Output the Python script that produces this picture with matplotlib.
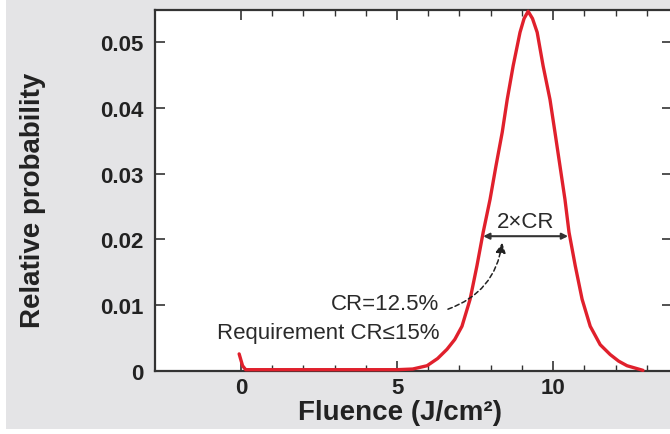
import matplotlib.pyplot as plt
from matplotlib.patches import Rectangle

# curve
fluence = [-0.06, 0.05, 0.15, 1.0, 2.0, 3.0, 4.0, 5.0, 5.5, 5.96, 6.3, 6.6, 6.85, 7.08,
           7.34, 7.56, 7.76, 7.98, 8.17, 8.37, 8.53, 8.72, 8.94, 9.07, 9.2,
           9.34, 9.49, 9.68, 9.9, 10.06, 10.22, 10.38, 10.51, 10.71, 10.93, 11.19,
           11.51, 11.83, 12.1, 12.37, 12.88]
prob = [0.0026, 0.0008, 0.0002, 0.0002, 0.0002, 0.0002, 0.0002, 0.0002, 0.0003, 0.0008, 0.0019, 0.0033, 0.0048, 0.0068,
        0.0109, 0.016, 0.0211, 0.0261, 0.0312, 0.0363, 0.0413, 0.0464, 0.0515, 0.0536, 0.0547,
        0.0536, 0.0515, 0.0464, 0.0413, 0.0363, 0.0312, 0.0261, 0.0211, 0.016, 0.0109, 0.0068,
        0.004, 0.0025, 0.0015, 0.0008, 0.0001]

cr_left, cr_right, cr_y = 7.76, 10.48, 0.0205

plt.rcParams['font.family'] = ['Liberation Sans', 'DejaVu Sans']

fig = plt.figure(figsize=(6.7, 4.35), dpi=100, facecolor='white')
fig.patches.append(Rectangle((6/670, 5/435), 1, 1, transform=fig.transFigure,
                             facecolor='#e4e4e6', edgecolor='none', zorder=-10))

ax = fig.add_axes([155/670, 1 - 372/435, (672-155)/670, (372-11)/435])
ax.set_facecolor('white')

ax.plot(fluence, prob, color='#e0202c', lw=2.4, solid_capstyle='round',
        solid_joinstyle='round', clip_on=False, zorder=3)

ax.set_xlim(-2.756, 13.81)
ax.set_ylim(0, 0.0549)
ax.set_xticks([0, 5, 10])
ax.set_xticks(range(1, 14), minor=True)
ax.set_yticks([0, 0.01, 0.02, 0.03, 0.04, 0.05])
ax.set_yticklabels(['0', '0.01', '0.02', '0.03', '0.04', '0.05'])
ax.tick_params(which='both', direction='in', top=True, right=True, color='#333333',
               labelsize=16, labelcolor='#222222')
ax.tick_params(which='major', length=7, width=1.2)
ax.tick_params(which='minor', length=4, width=1.0)
ax.tick_params(axis='y', pad=8)
ax.tick_params(axis='x', pad=4)
for lab in ax.get_xticklabels() + ax.get_yticklabels():
    lab.set_fontweight('bold')
for side in ['left', 'bottom', 'top']:
    ax.spines[side].set_color('#333333')
    ax.spines[side].set_linewidth(1.6)
ax.spines['right'].set_visible(False)

# 2xCR double arrow
ax.annotate('', xy=(cr_left, cr_y), xytext=(cr_right, cr_y),
            arrowprops=dict(arrowstyle='<|-|>', color='#333333', lw=1.5,
                            mutation_scale=9, shrinkA=0, shrinkB=0))
ax.text((cr_left + cr_right) / 2, 0.0228, '2×CR', ha='center', va='center',
        fontsize=16, color='#2a2a2a')

# dashed curved pointer
ax.annotate('', xy=(8.37, 0.0195), xytext=(6.63, 0.0094),
            arrowprops=dict(arrowstyle='-|>', color='#222222', lw=1.1, ls=(0, (3, 2)),
                            connectionstyle='arc3,rad=0.3', mutation_scale=15,
                            shrinkA=0, shrinkB=0))
ax.text(6.35, 0.0102, 'CR=12.5%', ha='right', va='center', fontsize=16, color='#2a2a2a')
ax.text(6.35, 0.0059, 'Requirement CR≤15%', ha='right', va='center', fontsize=16, color='#2a2a2a')

fig.text(400/670, 1 - 420/435, 'Fluence (J/cm²)', ha='center', va='baseline',
         fontsize=20, fontweight='bold', color='#222222')
fig.text(33/670, 1 - 200/435, 'Relative probability', ha='center', va='center',
         rotation=90, fontsize=20, fontweight='bold', color='#222222')

fig.savefig('out.png', dpi=100, facecolor=fig.get_facecolor())
